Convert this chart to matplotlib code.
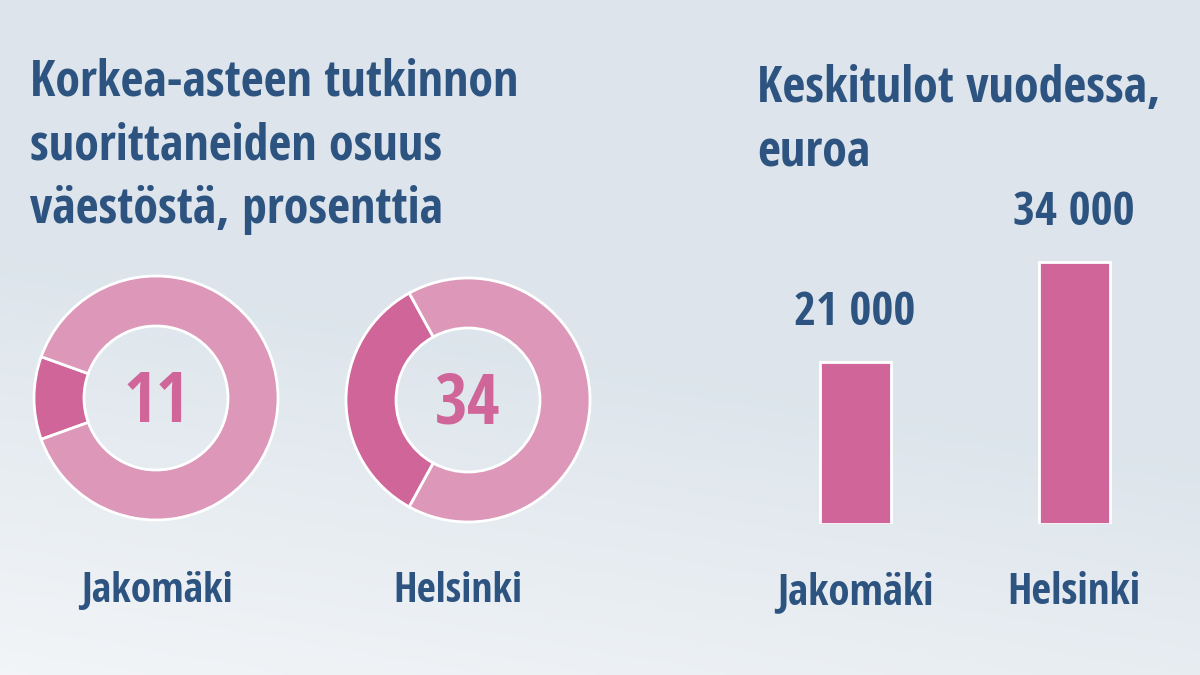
import matplotlib.pyplot as plt
import numpy as np

plt.rcParams['font.family'] = ['Open Sans Condensed', 'DejaVu Sans']
plt.rcParams['font.weight'] = 'bold'
plt.rcParams['font.stretch'] = 'condensed'

# data
places = ["Jakomäki", "Helsinki"]
degree_pct = [11, 34]
income = [21000, 34000]
income_labels = ["21 000", "34 000"]

title_left = "Korkea-asteen tutkinnon\nsuorittaneiden osuus\nväestöstä, prosenttia"
title_right = "Keskitulot vuodessa,\neuroa"

navy = "#2d5480"
pink_dark = "#cf6598"
pink_light = "#dc97b9"

W, H = 1200, 675
fig = plt.figure(figsize=(12, 6.75), dpi=100)

# background gradient
bg = fig.add_axes([0, 0, 1, 1], zorder=-10)
yy, xx = np.mgrid[0:1:200j, 0:1:200j]
t = np.clip((yy * 1.3 + (1 - xx) * 0.4 - 0.9) / 0.8, 0, 1)
top = np.array([0.867, 0.898, 0.925])
low = np.array([0.95, 0.96, 0.97])
img = top[None, None, :] * (1 - t[..., None]) + low[None, None, :] * t[..., None]
bg.imshow(img, extent=[0, 1, 0, 1], aspect='auto', origin='upper')
bg.axis('off')

def px_axes(cx, cy, w, h):
    return fig.add_axes([(cx - w / 2) / W, 1 - (cy + h / 2) / H, w / W, h / H])

# donuts
centers = [(156, 398), (468, 400)]
label_x = [157, 458]
for (cx, cy), lx, pct, name in zip(centers, label_x, degree_pct, places):
    ax = px_axes(cx, cy, 260, 260)
    ax.pie([pct, 100 - pct], colors=[pink_dark, pink_light], radius=1.22,
           startangle=180 - pct * 3.6 / 2, counterclock=True,
           wedgeprops=dict(width=0.5, edgecolor="white", linewidth=2))
    ax.set_xlim(-1.3, 1.3)
    ax.set_ylim(-1.3, 1.3)
    ax.set_aspect('equal')
    ax.axis('off')
    ax.text(0, 0.03, str(pct), ha='center', va='center_baseline', fontsize=51,
            color=pink_dark, fontweight='bold')
    fig.text(lx / W, 1 - 592 / H, name, ha='center', va='center',
             fontsize=30, color=navy, fontweight='bold')

# bar chart
axb = fig.add_axes([760 / W, (H - 524) / H, 410 / W, 350 / H])
axb.bar([0, 1], income, width=0.324, color=pink_dark, edgecolor="white", linewidth=2)
axb.set_xlim(-0.434, 1.438)
axb.set_ylim(0, 350 / 0.0077)
for i, (v, lab) in enumerate(zip(income, income_labels)):
    axb.annotate(lab, (i, v), xytext=(0, 36), textcoords='offset points',
                 ha='center', va='center', fontsize=34, color=navy, fontweight='bold')
axb.set_xticks([0, 1])
axb.set_xticklabels(places, fontsize=31, color=navy, fontweight='bold')
axb.tick_params(axis='x', length=0, pad=34)
axb.set_yticks([])
for s in axb.spines.values():
    s.set_visible(False)
axb.patch.set_alpha(0)

# titles
fig.text(30 / W, 1 - 57 / H, title_left, ha='left', va='top', fontsize=36,
         color=navy, fontweight='bold', linespacing=1.37)
fig.text(757 / W, 1 - 64 / H, title_right, ha='left', va='top', fontsize=36,
         color=navy, fontweight='bold', linespacing=1.37)

fig.savefig("out.png", dpi=100)
